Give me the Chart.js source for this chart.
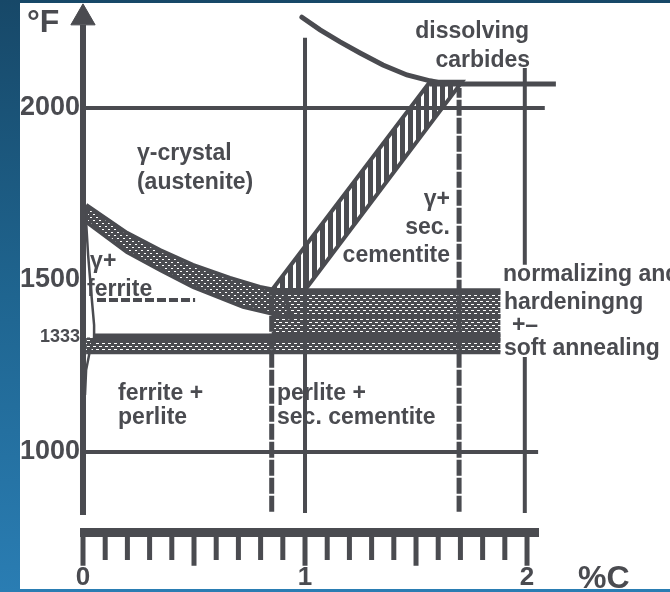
<!DOCTYPE html>
<html>
<head>
<meta charset="utf-8">
<title>Fe–C diagram with heat-treatment ranges</title>
<script src="https://cdn.jsdelivr.net/npm/chart.js@4.4.1/dist/chart.umd.min.js"></script>
<style>
  html, body { margin: 0; padding: 0; background: #ffffff; overflow: hidden; }
  canvas { display: block; }
</style>
</head>
<body>
<canvas id="chart" width="670" height="592" style="width:670px;height:592px"></canvas>
<script>
// Steel corner of the iron–carbon diagram (°F vs %C) with the usual
// heat-treatment ranges marked as hatched bands.

const INK = '#4a4b50';
const FONT = "'Liberation Sans', Arial, sans-serif";

// ---- axis labels ----
const tempTicks = [1000, 1333, 1500, 2000];          // °F
const carbonTicks = [0, 1, 2];                        // %C
const rulerMajor = [0, 0.5, 1, 1.5, 2];
const rulerMinor = [0.1, 0.2, 0.3, 0.4, 0.6, 0.7, 0.8, 0.9,
                    1.1, 1.2, 1.3, 1.4, 1.6, 1.7, 1.8, 1.9];

// ---- isotherms across the field: temperature and where they stop ----
const isoF = [2000, 1000];
const isoEndC = [2.08, 2.05];

// ---- upper forging limit (carbides dissolve) ----
const carbideC = [0.986, 1.068, 1.158, 1.248, 1.351, 1.459, 1.563, 1.631];
const carbideF = [2264, 2227, 2192, 2160, 2125, 2096, 2079, 2070];
const carbideLevelC = [1.56, 2.13];
const carbideLevelF = [2070, 2070];

// ---- Acm band: γ / γ + secondary cementite ----
const acmC = [0.851, 1.563, 1.707, 1.0];
const acmF = [1471, 2076, 2076, 1471];

// ---- A3 band: γ / γ + ferrite ----
const a3C = [0.014, 0.198, 0.347, 0.495, 0.662, 0.797, 0.910,
             0.932, 0.721, 0.495, 0.347, 0.198, 0.014];
const a3F = [1718, 1637, 1587, 1544, 1506, 1480, 1465,
             1390, 1422, 1480, 1529, 1581, 1669];

// ---- ferrite boundary next to the temperature axis ----
const ferriteC = [0.014, 0.023, 0.036, 0.050, 0.050, 0.032, 0.014, 0.009];
const ferriteF = [1669, 1573, 1471, 1369, 1333, 1297, 1238, 1166];

// ---- normalizing & hardening range ----
const normC = [0.85, 1.88];
const normF = [1290, 1471];
const normEdgeF = [1467, 1395];

// ---- soft annealing range, just under the eutectoid ----
const softC = [0.014, 0.85];
const softF = [1290, 1333];
const eutectoidC = [0.045, 1.88];
const eutectoidF = 1333;

// ---- vertical reference lines ----
const solidVerticalC = [1.0];
const solidVerticalF = [823, 2204];
const edgeVerticalC = 1.99;
const edgeVerticalSpans = [[1544, 2116], [823, 1276]];
const dashedVerticalC = [0.85, 1.694];
const dashedVerticalTopF = [1471, 2058];
const dashedBottomF = 826;

// ---- temperature axis and its arrow head ----
const tAxisF = [817, 2241];
const tArrowF = 2262;

// ---- text in the fields ----
const fieldLabels = [
  { text: 'γ-crystal',      c: 0.243, f: 1849 },
  { text: '(austenite)',    c: 0.243, f: 1765 },
  { text: 'γ+',             c: 0.032, f: 1535 },
  { text: 'ferrite',        c: 0.018, f: 1454 },
  { text: 'ferrite +',      c: 0.158, f: 1151 },
  { text: 'perlite',        c: 0.158, f: 1081 },
  { text: 'perlite +',      c: 0.874, f: 1151 },
  { text: 'sec. cementite', c: 0.874, f: 1081 },
  { text: 'γ+',             c: 1.653, f: 1715, align: 'right' },
  { text: 'sec.',           c: 1.653, f: 1634, align: 'right' },
  { text: 'cementite',      c: 1.653, f: 1552, align: 'right' },
  { text: 'dissolving',     c: 2.009, f: 2203, align: 'right' },
  { text: 'carbides',       c: 2.014, f: 2119, align: 'right' },
  { text: 'normalizing and', c: 1.892, f: 1497 },
  { text: 'hardeningng',    c: 1.896, f: 1416 },
  { text: '+–',             c: 1.932, f: 1349 },
  { text: 'soft annealing', c: 1.896, f: 1282 },
  { text: '°F',             c: -0.252, f: 2221, size: 32 },
  { text: '%C',             c: 2.230, f: 605, size: 32 }
];

// ---------------------------------------------------------------------
const pts = (cs, fs) => cs.map((c, i) => ({ x: c, y: fs[i] }));
const closed = (cs, fs) => { const p = pts(cs, fs); p.push({ x: p[0].x, y: p[0].y }); return p; };

const canvas = document.getElementById('chart');
const mainCtx = canvas.getContext('2d');

function makePattern(w, h, paint) {
  const c = document.createElement('canvas');
  c.width = w; c.height = h;
  const g = c.getContext('2d');
  g.fillStyle = INK; g.fillRect(0, 0, w, h);
  g.fillStyle = '#ffffff';
  paint(g);
  return mainCtx.createPattern(c, 'repeat');
}
// fine speckled cross-hatch
const speckle = makePattern(6, 6, g => { g.fillRect(0, 1, 3, 1); g.fillRect(3, 4, 3, 1); });
// denser speckle for the curved A3 band
const speckleDark = makePattern(6, 6, g => { g.fillRect(0, 1, 2, 1); g.fillRect(3, 4, 2, 1); });
// upright slits
const slits = makePattern(8, 8, g => { g.fillRect(5, 0, 3, 8); });

function line(data, width, extra) {
  return Object.assign({
    data, borderColor: INK, borderWidth: width, pointRadius: 0,
    fill: false, tension: 0, order: 1, borderCapStyle: 'butt'
  }, extra || {});
}
function area(data, pattern, width) {
  return line(data, width, { fill: 'shape', backgroundColor: pattern, order: 5 });
}
function ticksData(list, top, bottom) {
  const out = [];
  list.forEach(c => out.push({ x: c, y: top }, { x: c, y: bottom }, { x: c, y: null }));
  return out;
}

const datasets = [];

// hatched ranges
datasets.push(area(closed(a3C, a3F), speckleDark, 4));
datasets.push(area(closed(acmC, acmF), slits, 4));
datasets.push(area(closed([normC[0], normC[1], normC[1], normC[0]],
                          [normF[1], normF[1], normF[0], normF[0]]), speckle, 0));
datasets.push(area(closed([softC[0], softC[1], softC[1], softC[0]],
                          [softF[1], softF[1], softF[0], softF[0]]), speckle, 0));

// band edges
datasets.push(line(pts(normC, [normEdgeF[0], normEdgeF[0]]), 6));
datasets.push(line(pts(normC, [normEdgeF[1], normEdgeF[1]]), 4));
datasets.push(line(pts(eutectoidC, [eutectoidF, eutectoidF]), 8));
datasets.push(line(pts([softC[0], normC[1]], [softF[0], softF[0]]), 4));

// isotherms
isoF.forEach((f, i) => datasets.push(line(pts([0, isoEndC[i]], [f, f]), 4)));

// forging limit
datasets.push(line(pts(carbideC, carbideF), 5, { borderCapStyle: 'round' }));
datasets.push(line(pts(carbideLevelC, carbideLevelF), 5));

// ferrite boundary
datasets.push(line(pts(ferriteC, ferriteF), 2.5));
datasets.push(line(pts([0.063, 0.505], [1442, 1442]), 4, { borderDash: [9, 3] }));

// verticals
solidVerticalC.forEach(c => datasets.push(line(pts([c, c], solidVerticalF), 4)));
edgeVerticalSpans.forEach(s => datasets.push(line(pts([edgeVerticalC, edgeVerticalC], s), 4)));
dashedVerticalC.forEach((c, i) =>
  datasets.push(line(pts([c, c], [dashedBottomF, dashedVerticalTopF[i]]), 5, { borderDash: [16, 2] })));

// temperature axis with arrow head
datasets.push(line(pts([0, 0], tAxisF), 6, { clip: false }));
datasets.push(line([{ x: 0, y: tArrowF }], 0, {
  showLine: false, clip: false, pointStyle: 'triangle', pointRadius: 14,
  pointBackgroundColor: INK, pointBorderColor: INK, pointBorderWidth: 1
}));

// carbon ruler
datasets.push(line(pts([-0.0135, 2.054], [766, 766]), 9, { clip: false }));
datasets.push(line(ticksData(rulerMinor, 764, 686), 5, { clip: false }));
datasets.push(line(ticksData(rulerMajor, 764, 669), 5, { clip: false }));

// ---------------------------------------------------------------------
const backdrop = {
  id: 'backdrop',
  beforeDraw(chart) {
    const { ctx, width, height } = chart;
    ctx.save();
    const g = ctx.createLinearGradient(0, 0, 0, height);
    g.addColorStop(0, '#174868');
    g.addColorStop(0.5, '#1f6590');
    g.addColorStop(1, '#2a7db3');
    ctx.fillStyle = g;
    ctx.fillRect(0, 0, width, height);
    ctx.fillStyle = '#ffffff';
    ctx.fillRect(20, 3, width - 20, height - 6);
    ctx.restore();
  }
};

const fieldText = {
  id: 'fieldText',
  afterDatasetsDraw(chart) {
    const { ctx, scales: { x, y } } = chart;
    ctx.save();
    ctx.fillStyle = INK;
    ctx.textBaseline = 'alphabetic';
    fieldLabels.forEach(l => {
      ctx.font = `bold ${l.size || 23}px ${FONT}`;
      ctx.textAlign = l.align || 'left';
      ctx.fillText(l.text, x.getPixelForValue(l.c), y.getPixelForValue(l.f));
    });
    ctx.restore();
  }
};

new Chart(canvas, {
  type: 'line',
  data: { datasets },
  options: {
    responsive: false,
    animation: false,
    events: [],
    layout: { padding: 0, autoPadding: false },
    plugins: { legend: { display: false }, tooltip: { enabled: false } },
    scales: {
      x: {
        type: 'linear', position: 'bottom', bounds: 'data',
        min: -0.0135, max: 2.644,
        afterBuildTicks: s => { s.ticks = carbonTicks.map(v => ({ value: v })); },
        afterFit: s => { s.height = 55; s.paddingLeft = 0; s.paddingRight = 0; },
        grid: { display: false, drawTicks: false },
        border: { display: false },
        ticks: {
          color: INK, padding: 25, maxRotation: 0, autoSkip: false,
          font: { family: FONT, size: 26, weight: 'bold' },
          callback: v => String(v)
        }
      },
      y: {
        type: 'linear', position: 'left', bounds: 'data',
        min: 752.9, max: 2313.95,
        afterBuildTicks: s => { s.ticks = tempTicks.map(v => ({ value: v })); },
        afterFit: s => { s.width = 80; s.paddingTop = 0; s.paddingBottom = 0; },
        grid: { display: false, drawTicks: false },
        border: { display: false },
        ticks: {
          color: INK, padding: 0, autoSkip: false,
          font: ctx => ({ family: FONT, size: ctx.tick && ctx.tick.value === 1333 ? 18 : 27, weight: 'bold' }),
          callback: v => String(v)
        }
      }
    }
  },
  plugins: [backdrop, fieldText]
});
</script>
</body>
</html>
